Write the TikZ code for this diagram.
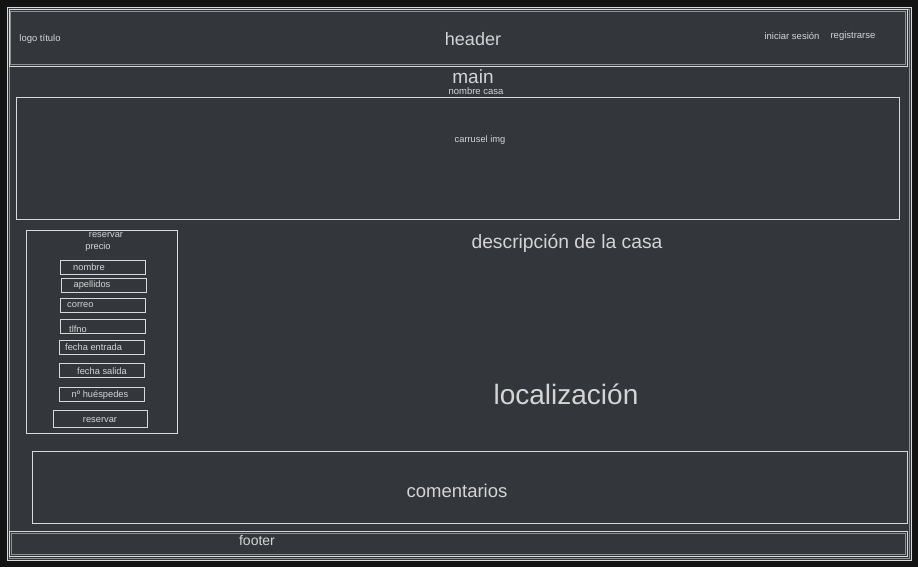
\documentclass[tikz,border=0pt]{standalone}
\usepackage{fontspec}
\setmainfont{Liberation Sans}
\definecolor{bgdark}{HTML}{131313}
\definecolor{panel}{HTML}{33373B}
\definecolor{linec}{HTML}{D8D8D8}
\definecolor{txtc}{HTML}{D4D4D4}
\begin{document}
\begin{tikzpicture}[x=1pt,y=-1pt,
  frame/.style={draw=linec,line width=0.9pt},
  thinframe/.style={draw=linec!55!panel,line width=0.5pt},
  box/.style={draw=linec,line width=0.9pt},
  field/.style={draw=linec,line width=0.9pt},
  lbl/.style={text=txtc,inner sep=0pt,font=\fontsize{9.3}{10}\selectfont},
  big/.style={text=txtc,inner sep=0pt,font=\fontsize{18}{20}\selectfont}]
\fill[bgdark] (0,0) rectangle (918,567);
\useasboundingbox (0,0) rectangle (918,567);
% outer frame
\fill[panel] (7,7) rectangle (911,560);
\draw[frame] (7,7) rectangle (911,560);
\draw[thinframe] (9,9) rectangle (909,558);
% header
\draw[frame] (9,9) rectangle (907,66);
\draw[thinframe] (10,11) rectangle (905,64);
\node[big] (header) at (473,39) {header};
\node[lbl,font=\fontsize{9.5}{10}\selectfont] (logo) at (40,39) {logo título};
\node[lbl,font=\fontsize{9.5}{10}\selectfont] (login) at (792,36) {iniciar sesión};
\node[lbl,font=\fontsize{9.5}{10}\selectfont] (reg) at (853,36) {registrarse};
% main
\node[big,font=\fontsize{19}{20}\selectfont] (main) at (473,77) {main};
\node[lbl,font=\fontsize{9.5}{10}\selectfont] (nombrecasa) at (476,91) {nombre casa};
\draw[box] (16,97) rectangle (899,219);
\node[lbl] (carrusel) at (480,140) {carrusel img};
% reservar panel
\draw[box] (26,230) rectangle (177,433);
\node[lbl] (resTitle) at (106,235) {reservar};
\node[lbl] (precio) at (98,247) {precio};
\draw[field] (60,260) rectangle (145,274);
\node[lbl] (fnombre) at (89,267) {nombre};
\draw[field] (61,278) rectangle (146,292);
\node[lbl] (fapellidos) at (92,285) {apellidos};
\draw[field] (60,298) rectangle (145,312);
\node[lbl,anchor=west] (fcorreo) at (67,305) {correo};
\draw[field] (60,319) rectangle (145,333);
\node[lbl,anchor=west] (ftlfno) at (69,329) {tlfno};
\draw[field] (59,340) rectangle (144,354);
\node[lbl,anchor=west] (fentrada) at (65,347) {fecha entrada};
\draw[field] (59,363) rectangle (144,377);
\node[lbl] (fsalida) at (102,371) {fecha salida};
\draw[field] (59,387) rectangle (144,401);
\node[lbl] (fhuesp) at (100,395) {nº huéspedes};
\draw[field] (53,410) rectangle (147,427);
\node[lbl] (bres) at (100,420) {reservar};
% descriptions
\node[big,font=\fontsize{19.3}{21}\selectfont] (desc) at (567,243) {descripción de la casa};
\node[big,font=\fontsize{28}{30}\selectfont] (loc) at (566,394) {localización};
% comentarios
\draw[box] (32,451) rectangle (907,523);
\node[big,font=\fontsize{18.5}{20}\selectfont] (coment) at (457,491) {comentarios};
% footer
\draw[frame] (9,531) rectangle (907,556);
\draw[thinframe] (11,533) rectangle (905,554);
\node[big,font=\fontsize{14}{16}\selectfont] (footer) at (257,540) {footer};
\end{tikzpicture}
\end{document}
